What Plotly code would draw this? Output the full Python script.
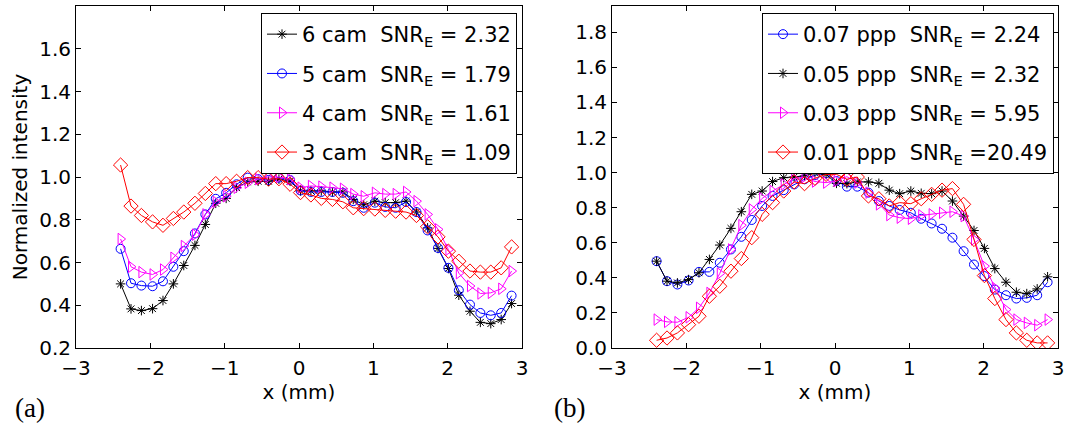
import plotly.graph_objects as go

# ---------------- data ----------------
x_pos = [-2.40, -2.26, -2.12, -1.97, -1.83, -1.69, -1.55, -1.40, -1.26, -1.12,
         -0.98, -0.84, -0.69, -0.55, -0.41, -0.27, -0.12, 0.02, 0.16, 0.30,
         0.45, 0.59, 0.73, 0.87, 1.02, 1.16, 1.30, 1.44, 1.58, 1.73,
         1.87, 2.01, 2.15, 2.30, 2.44, 2.58, 2.72, 2.86]

# panel (a): number of cameras
cam6 = [0.500, 0.383, 0.375, 0.384, 0.422, 0.500, 0.586, 0.680, 0.778, 0.877,
        0.900, 0.950, 0.977, 0.980, 0.980, 0.990, 0.980, 0.935, 0.935, 0.935,
        0.930, 0.930, 0.895, 0.870, 0.887, 0.880, 0.880, 0.887, 0.836, 0.762,
        0.666, 0.572, 0.447, 0.372, 0.320, 0.314, 0.333, 0.408]
cam5 = [0.664, 0.503, 0.492, 0.489, 0.512, 0.580, 0.653, 0.736, 0.825, 0.898,
        0.926, 0.966, 0.997, 0.990, 0.986, 0.997, 0.986, 0.937, 0.930, 0.930,
        0.930, 0.926, 0.887, 0.856, 0.880, 0.860, 0.856, 0.883, 0.836, 0.750,
        0.668, 0.575, 0.470, 0.403, 0.364, 0.353, 0.364, 0.445]
cam4 = [0.710, 0.580, 0.555, 0.544, 0.567, 0.622, 0.677, 0.730, 0.825, 0.883,
        0.910, 0.950, 0.973, 0.990, 1.000, 1.000, 0.990, 0.950, 0.958, 0.955,
        0.950, 0.945, 0.920, 0.910, 0.926, 0.920, 0.920, 0.930, 0.887, 0.825,
        0.755, 0.660, 0.550, 0.490, 0.455, 0.458, 0.477, 0.560]
cam3 = [1.056, 0.864, 0.820, 0.790, 0.774, 0.806, 0.836, 0.877, 0.923, 0.969,
        0.969, 0.980, 0.997, 0.997, 0.990, 0.992, 0.966, 0.927, 0.916, 0.900,
        0.895, 0.884, 0.856, 0.852, 0.850, 0.844, 0.840, 0.836, 0.820, 0.767,
        0.720, 0.653, 0.606, 0.560, 0.555, 0.555, 0.575, 0.673]

# panel (b): particle density
ppp07 = [0.495, 0.381, 0.362, 0.385, 0.434, 0.434, 0.486, 0.562, 0.634, 0.730,
         0.810, 0.867, 0.900, 0.933, 0.962, 0.985, 0.996, 0.952, 0.920, 0.920,
         0.886, 0.838, 0.810, 0.787, 0.771, 0.737, 0.710, 0.680, 0.629, 0.552,
         0.476, 0.410, 0.333, 0.301, 0.282, 0.286, 0.301, 0.375]
ppp05 = [0.495, 0.381, 0.371, 0.390, 0.429, 0.505, 0.587, 0.682, 0.777, 0.876,
         0.895, 0.949, 0.971, 0.975, 0.981, 1.000, 0.990, 0.939, 0.937, 0.947,
         0.947, 0.939, 0.900, 0.880, 0.895, 0.882, 0.880, 0.895, 0.838, 0.752,
         0.670, 0.568, 0.453, 0.375, 0.318, 0.310, 0.337, 0.406]
ppp03 = [0.162, 0.149, 0.147, 0.175, 0.229, 0.314, 0.425, 0.562, 0.700, 0.790,
         0.853, 0.895, 0.933, 0.966, 0.975, 0.949, 0.943, 0.952, 0.977, 0.943,
         0.886, 0.819, 0.758, 0.743, 0.737, 0.756, 0.762, 0.771, 0.777, 0.752,
         0.619, 0.467, 0.343, 0.219, 0.162, 0.143, 0.130, 0.162]
ppp01 = [0.044, 0.057, 0.086, 0.133, 0.181, 0.295, 0.352, 0.438, 0.510, 0.629,
         0.762, 0.829, 0.895, 0.947, 0.937, 0.968, 0.990, 0.990, 0.962, 0.975,
         0.867, 0.851, 0.810, 0.829, 0.823, 0.851, 0.876, 0.900, 0.909, 0.819,
         0.619, 0.413, 0.282, 0.162, 0.086, 0.044, 0.029, 0.029]

names_a = ["6 cam", "5 cam", "4 cam", "3 cam"]
snr_a = ["= 2.32", "= 1.79", "= 1.61", "= 1.09"]
names_b = ["0.07 ppp", "0.05 ppp", "0.03 ppp", "0.01 ppp"]
snr_b = ["= 2.24", "= 2.32", "= 5.95", "=20.49"]

x_ticks = [-3, -2, -1, 0, 1, 2, 3]
y_ticks_a = [0.2, 0.4, 0.6, 0.8, 1.0, 1.2, 1.4, 1.6]
y_ticks_b = [0.0, 0.2, 0.4, 0.6, 0.8, 1.0, 1.2, 1.4, 1.6, 1.8]

# ---------------- styles ----------------
FONT = "DejaVu Sans, Liberation Sans, Arial, sans-serif"
FS = 20
LFS = 21
NB = "\u00a0"
sty = {
    "black": dict(color="#000000", symbol="asterisk-open", size=8),
    "blue": dict(color="#0000ff", symbol="circle-open", size=9),
    "magenta": dict(color="#ff00ff", symbol="triangle-right-open", size=10),
    "red": dict(color="#ff0000", symbol="diamond-open", size=11),
}

fig = go.Figure()

def add(y, name, snr, st, xa, ya, leg, grp):
    fig.add_trace(go.Scatter(
        x=x_pos, y=y, mode="lines+markers",
        name=f"{name}{NB}{NB}SNR<sub>E</sub>{NB}{snr}",
        line=dict(color=st["color"], width=1),
        marker=dict(symbol=st["symbol"], size=st["size"], color=st["color"],
                    line=dict(color=st["color"], width=1)),
        xaxis=xa, yaxis=ya, legend=leg, legendgroup=grp,
    ))

for i, (y, n, s, c) in enumerate(zip([cam6, cam5, cam4, cam3], names_a, snr_a,
                                     ["black", "blue", "magenta", "red"])):
    add(y, n, s, sty[c], "x", "y", "legend", f"a{i}")
for i, (y, n, s, c) in enumerate(zip([ppp07, ppp05, ppp03, ppp01], names_b, snr_b,
                                     ["blue", "black", "magenta", "red"])):
    add(y, n, s, sty[c], "x2", "y2", "legend2", f"b{i}")

W, H = 1070, 429
ydom = [1 - 348 / H, 1 - 6 / H]

axis_common = dict(
    showline=True, linecolor="black", linewidth=1, mirror="ticks",
    ticks="inside", ticklen=5, tickcolor="black", showgrid=False,
    zeroline=False, automargin=False, ticklabeloverflow="allow",
    tickfont=dict(family=FONT, size=FS, color="black"),
)

leg_common = dict(
    xanchor="right", y=1 - 13 / H, yanchor="top",
    bgcolor="white", bordercolor="black", borderwidth=1,
    font=dict(family=FONT, size=LFS, color="black"),
    itemwidth=30, tracegroupgap=9,
)

fig.update_layout(
    width=W, height=H,
    margin=dict(l=0, r=0, t=0, b=0, autoexpand=False),
    paper_bgcolor="white", plot_bgcolor="white",
    font=dict(family=FONT, size=FS, color="black"),
    xaxis=dict(domain=[76 / W, 522 / W], range=[-3, 3], tickvals=x_ticks,
               ticklabelstandoff=2,
               title=dict(text="x (mm)", font=dict(size=FS), standoff=0),
               anchor="y", **axis_common),
    yaxis=dict(domain=ydom, range=[0.2, 1.8], tickvals=y_ticks_a,
               tickformat=".1f",
               title=dict(text="Normalized intensity", font=dict(size=FS), standoff=6),
               anchor="x", **axis_common),
    xaxis2=dict(domain=[612 / W, 1058 / W], range=[-3, 3], tickvals=x_ticks,
                ticklabelstandoff=2,
                title=dict(text="x (mm)", font=dict(size=FS), standoff=0),
                anchor="y2", **axis_common),
    yaxis2=dict(domain=ydom, range=[0.0, 1.95], tickvals=y_ticks_b,
                tickformat=".1f", anchor="x2", **axis_common),
    legend=dict(x=517 / W, **leg_common),
    legend2=dict(x=1054 / W, **leg_common),
    showlegend=True,
)

for lab, xp in [("(a)", 13), ("(b)", 552)]:
    fig.add_annotation(text=lab, x=xp / W, y=1 - 408 / H, xref="paper", yref="paper",
                       xanchor="left", yanchor="middle", showarrow=False,
                       font=dict(family="Liberation Serif, DejaVu Serif, serif", size=27,
                                 color="black"))

fig.write_html("out.html",
               config={"displayModeBar": False},
               post_script="document.body.style.margin='0';"
                           "document.body.style.overflow='hidden';")
